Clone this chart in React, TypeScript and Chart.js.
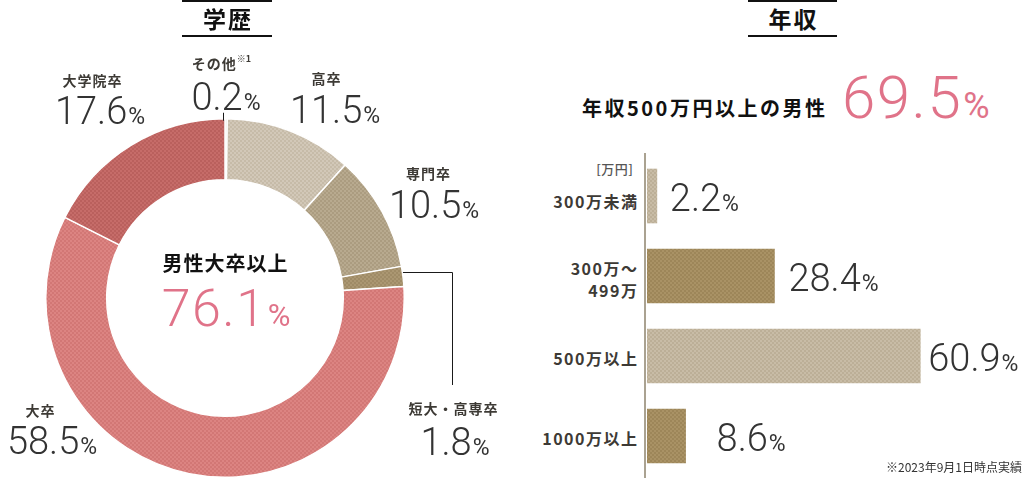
import React, { useEffect, useRef } from "react";
import { Chart, registerables } from "chart.js";

Chart.register(...registerables);

// ---- Data ----
const eduLabels = ["その他", "高卒", "専門卒", "短大・高専卒", "大卒", "大学院卒"];
const eduValues = [0.2, 11.5, 10.5, 1.8, 58.5, 17.6];
const eduColorPairs: [string, string][] = [
  ["#d9cfbd", "#cfc4b0"],
  ["#d2c8b8", "#c6bba8"],
  ["#b8aa8f", "#ab9c80"],
  ["#ab9772", "#9f8b66"],
  ["#dc8482", "#d27775"],
  ["#c66c69", "#ba605d"],
];

const incomeLabels = ["300万未満", "300万～499万", "500万以上", "1000万以上"];
const incomeValues = [2.2, 28.4, 60.9, 8.6];
const incomeColorPairs: [string, string][] = [
  ["#c8bca6", "#bcaf97"],
  ["#a99265", "#9d8659"],
  ["#c8bca6", "#bcaf97"],
  ["#a99265", "#9d8659"],
];
const incomeMax = 80;

const PINK = "#e07389";
const TEXT = "#333333";
const LABEL = "#3d3a35";
const NUM_FONT = "Roboto, 'Liberation Sans', sans-serif";
const JP_FONT = "'Noto Sans CJK JP', 'Noto Sans', sans-serif";

function checker(a: string, b: string): CanvasPattern | string {
  const c = document.createElement("canvas");
  c.width = 4;
  c.height = 4;
  const x = c.getContext("2d");
  if (!x) return a;
  x.fillStyle = a;
  x.fillRect(0, 0, 4, 4);
  x.fillStyle = b;
  x.fillRect(0, 0, 2, 2);
  x.fillRect(2, 2, 2, 2);
  return x.createPattern(c, "repeat") || a;
}

const leaderPlugin = {
  id: "leaders",
  afterDatasetsDraw(chart: any) {
    const meta = chart.getDatasetMeta(0);
    const ctx = chart.ctx as CanvasRenderingContext2D;
    const pt = (i: number, which: "mid" | "start") => {
      const a = meta.data[i] as any;
      const m = which === "mid" ? (a.startAngle + a.endAngle) / 2 : a.startAngle;
      return { x: a.x + Math.cos(m) * a.outerRadius, y: a.y + Math.sin(m) * a.outerRadius };
    };
    ctx.save();
    ctx.strokeStyle = "#1a1a1a";
    ctx.lineWidth = 1;
    const p0 = pt(0, "start");
    const x0 = Math.round(p0.x) - 1.5;
    ctx.beginPath();
    ctx.moveTo(x0, p0.y + 2);
    ctx.lineTo(x0, p0.y - 6);
    ctx.stroke();
    const p3 = pt(3, "mid");
    const y3 = Math.round(p3.y) - 3.5;
    ctx.beginPath();
    ctx.moveTo(p3.x, y3);
    ctx.lineTo(452.5, y3);
    ctx.lineTo(452.5, 385);
    ctx.stroke();
    ctx.restore();
  },
};

const axisLinePlugin = {
  id: "axisLine",
  beforeDatasetsDraw(chart: any) {
    const ctx = chart.ctx as CanvasRenderingContext2D;
    ctx.save();
    ctx.fillStyle = "#aaa291";
    ctx.fillRect(chart.chartArea.left - 3, 3, 2, chart.height - 3);
    ctx.restore();
  },
};

const valueLabelPlugin = {
  id: "valueLabels",
  afterDatasetsDraw(chart: any, _args: any, opts: any) {
    const ctx = chart.ctx as CanvasRenderingContext2D;
    const meta = chart.getDatasetMeta(0);
    const gaps: number[] = opts.gaps || [];
    ctx.save();
    ctx.fillStyle = TEXT;
    ctx.textBaseline = "alphabetic";
    ctx.textAlign = "left";
    meta.data.forEach((bar: any, i: number) => {
      const v = chart.data.datasets[0].data[i] as number;
      const txt = v.toFixed(1);
      const x = bar.x + (gaps[i] ?? 12);
      const y = bar.y + 15;
      ctx.font = `300 38px ${NUM_FONT}`;
      ctx.fillText(txt, x, y);
      const w = ctx.measureText(txt).width;
      ctx.font = `400 23px ${NUM_FONT}`;
      ctx.fillText("%", x + w + 1, y);
    });
    ctx.restore();
  },
};

function Num({ cx, base, value, size = 38, pct = 23, color = TEXT, ls = 0 }: any) {
  return (
    <div
      style={{
        position: "absolute",
        left: cx,
        top: base - size * 0.84,
        transform: "translateX(-50%)",
        whiteSpace: "nowrap",
        fontFamily: NUM_FONT,
        fontWeight: 300,
        fontSize: size,
        lineHeight: 1,
        letterSpacing: ls,
        color,
      }}
    >
      {value}
      <span style={{ fontSize: pct, fontWeight: 400, marginLeft: 1, letterSpacing: 0 }}>%</span>
    </div>
  );
}

function Lbl({ cx, cy, children, size = 14, ls = 1, color = LABEL, weight = 700 }: any) {
  return (
    <div
      style={{
        position: "absolute",
        left: cx,
        top: cy - size / 2,
        transform: "translateX(-50%)",
        whiteSpace: "nowrap",
        fontFamily: JP_FONT,
        fontWeight: weight,
        fontSize: size,
        lineHeight: `${size}px`,
        letterSpacing: ls,
        paddingLeft: ls,
        color,
      }}
    >
      {children}
    </div>
  );
}

function RLbl({ right, cy, children, size = 16, ls = 1.5, color = LABEL, weight = 700 }: any) {
  return (
    <div
      style={{
        position: "absolute",
        right: 1024 - right - ls,
        top: cy - size / 2,
        whiteSpace: "nowrap",
        textAlign: "right",
        fontFamily: JP_FONT,
        fontWeight: weight,
        fontSize: size,
        lineHeight: `${size}px`,
        letterSpacing: ls,
        color,
      }}
    >
      {children}
    </div>
  );
}

function Title({ left, width, text }: any) {
  return (
    <div
      style={{
        position: "absolute",
        left,
        top: 0,
        width,
        height: 37,
        boxSizing: "border-box",
        borderTop: "2px solid #111",
        borderBottom: "2px solid #111",
        textAlign: "center",
        fontFamily: JP_FONT,
        fontWeight: 700,
        fontSize: 23,
        lineHeight: "32px",
        letterSpacing: 2,
        paddingLeft: 2,
        color: "#111",
      }}
    >
      {text}
    </div>
  );
}

export default function App() {
  const donutRef = useRef<HTMLCanvasElement | null>(null);
  const barRef = useRef<HTMLCanvasElement | null>(null);

  useEffect(() => {
    document.body.style.margin = "0";
    const donut = new Chart(donutRef.current as HTMLCanvasElement, {
      type: "doughnut",
      data: {
        labels: eduLabels,
        datasets: [
          {
            data: eduValues,
            backgroundColor: eduColorPairs.map(([a, b]) => checker(a, b)) as any,
            borderColor: "#ffffff",
            borderWidth: 1.5,
            hoverOffset: 0,
          },
        ],
      },
      options: {
        animation: false,
        responsive: false,
        cutout: "66%",
        events: [],
        layout: { padding: { left: 45, top: 118, right: 115, bottom: 0 } },
        plugins: { legend: { display: false }, tooltip: { enabled: false } },
      },
      plugins: [leaderPlugin],
    });

    const bar = new Chart(barRef.current as HTMLCanvasElement, {
      type: "bar",
      data: {
        labels: incomeLabels,
        datasets: [
          {
            data: incomeValues,
            backgroundColor: incomeColorPairs.map(([a, b]) => checker(a, b)) as any,
            borderWidth: 0,
            barThickness: 54,
          },
        ],
      },
      options: {
        indexAxis: "y",
        animation: false,
        responsive: false,
        events: [],
        layout: { padding: { left: 7, top: 6, right: 18, bottom: 2 } },
        scales: {
          x: { display: false, min: 0, max: incomeMax },
          y: { display: false },
        },
        plugins: {
          legend: { display: false },
          tooltip: { enabled: false },
          valueLabels: { gaps: [13, 14, 8, 31] },
        } as any,
      },
      plugins: [axisLinePlugin, valueLabelPlugin],
    });

    return () => {
      donut.destroy();
      bar.destroy();
    };
  }, []);

  const univTotal = (eduValues[4] + eduValues[5]).toFixed(1);
  const over500 = (incomeValues[2] + incomeValues[3]).toFixed(1);

  return (
    <div
      style={{
        position: "absolute",
        left: 0,
        top: 0,
        width: 1024,
        height: 478,
        overflow: "hidden",
        background: "#ffffff",
        fontFamily: JP_FONT,
      }}
    >
      <canvas ref={donutRef} width={520} height={478} style={{ position: "absolute", left: 0, top: 0, width: 520, height: 478 }} />
      <canvas ref={barRef} width={384} height={328} style={{ position: "absolute", left: 640, top: 150, width: 384, height: 328 }} />

      <Title left={182} width={90} text="学歴" />
      <Title left={748} width={89} text="年収" />

      {/* donut labels */}
      <Lbl cx={221} cy={63}>
        {eduLabels[0]}
        <span style={{ fontSize: 9, verticalAlign: "top", position: "relative", top: -4, letterSpacing: 0 }}>※1</span>
      </Lbl>
      <Num cx={226} base={110} value={eduValues[0].toFixed(1)} />
      <Lbl cx={326} cy={78}>{eduLabels[1]}</Lbl>
      <Num cx={335} base={123} value={eduValues[1].toFixed(1)} />
      <Lbl cx={428} cy={173}>{eduLabels[2]}</Lbl>
      <Num cx={434} base={218} value={eduValues[2].toFixed(1)} />
      <Lbl cx={453} cy={408}>{eduLabels[3]}</Lbl>
      <Num cx={455} base={455} value={eduValues[3].toFixed(1)} />
      <Lbl cx={40} cy={410}>{eduLabels[4]}</Lbl>
      <Num cx={52} base={454} value={eduValues[4].toFixed(1)} />
      <Lbl cx={92} cy={80}>{eduLabels[5]}</Lbl>
      <Num cx={100} base={124} value={eduValues[5].toFixed(1)} />

      {/* donut centre */}
      <Lbl cx={225} cy={263} size={20} ls={1} color="#111">男性大卒以上</Lbl>
      <Num cx={226} base={327} value={univTotal} size={52} pct={31} ls={1.5} color={PINK} />

      {/* income headline */}
      <div
        style={{
          position: "absolute",
          left: 582,
          top: 108 - 10,
          fontFamily: JP_FONT,
          fontWeight: 700,
          fontSize: 20,
          lineHeight: "20px",
          letterSpacing: 2.5,
          color: "#111",
          whiteSpace: "nowrap",
        }}
      >
        年収500万円以上の男性
      </div>
      <div
        style={{
          position: "absolute",
          left: 842,
          top: 118 - 60 * 0.84,
          fontFamily: NUM_FONT,
          fontWeight: 300,
          fontSize: 60,
          lineHeight: 1,
          letterSpacing: 1.5,
          color: PINK,
          whiteSpace: "nowrap",
        }}
      >
        {over500}
        <span style={{ fontSize: 36, fontWeight: 400, marginLeft: 1, letterSpacing: 0 }}>%</span>
      </div>

      {/* bar category labels */}
      <RLbl right={633} cy={168} size={13} ls={0.5} color="#555" weight={500}>[万円]</RLbl>
      <RLbl right={637} cy={201}>{incomeLabels[0]}</RLbl>
      <RLbl right={637} cy={268}>300万～</RLbl>
      <RLbl right={637} cy={290}>499万</RLbl>
      <RLbl right={637} cy={358}>{incomeLabels[2]}</RLbl>
      <RLbl right={637} cy={438}>{incomeLabels[3]}</RLbl>

      <div
        style={{
          position: "absolute",
          left: 886,
          top: 467 - 6,
          fontFamily: JP_FONT,
          fontSize: 12,
          lineHeight: "12px",
          color: TEXT,
          whiteSpace: "nowrap",
        }}
      >
        ※2023年9月1日時点実績
      </div>
    </div>
  );
}
